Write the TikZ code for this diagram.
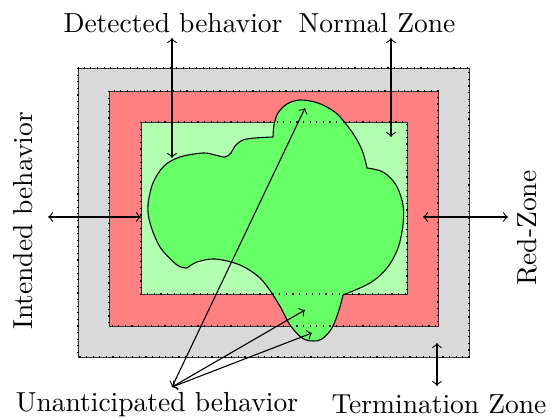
\documentclass[tikz,border=0pt]{standalone}
\begin{document}
\begin{tikzpicture}[x=0.3636pt,y=-0.3636pt,
  zone/.style={draw=black!80,line width=0.25pt},
  dotline/.style={draw=black,dotted,line width=0.4pt},
  lbl/.style={inner sep=0pt,anchor=base},
  conn/.style={<->,line width=0.4pt}]
\useasboundingbox (0,0) rectangle (551,419);
% zones
\path[zone,fill=black!15] (78,68) rectangle (469,357);
\path[zone,fill=red!50] (109,91) rectangle (438,326);
\path[zone,fill=green!30] (141,122) rectangle (407,294);
% behaviour blob
\path[draw=black,fill=green!60,line width=0.4pt] (187,268)
  -- plot[smooth,tension=0.55] coordinates {(187,268) (177,265) (160,247) (150,223) (148,205) (153,183) (164,166) (180,157) (203,153) (215,155) (225,157) (231,153) (235,146) (243,140) (255,138) (273,137)}
  -- plot[smooth,tension=0.55] coordinates {(273,137) (274,125) (278,113) (287,104) (300,100) (318,103) (336,113) (352,132) (362,150) (367,168)}
  -- plot[smooth,tension=0.55] coordinates {(367,168) (383,172) (396,185) (403,205) (403,225) (398,248) (387,268) (370,283) (343,295)}
  -- plot[smooth,tension=0.55] coordinates {(343,295) (339,310) (332,328) (322,339) (313,341) (302,338) (290,325) (281,308) (273,295)}
  -- plot[smooth,tension=0.55] coordinates {(273,295) (260,278) (240,265) (215,259) (197,262) (187,268)}
  -- cycle;
% dotted zone borders on top
\path[dotline] (78,68) rectangle (469,357);
\path[dotline] (109,91) rectangle (438,326);
\path[dotline] (141,122) rectangle (407,294);
% labels
\node[lbl] (det) at (173,33) {Detected behavior};
\node[lbl] (norm) at (377,33) {Normal Zone};
\node[lbl] (unan) at (157,412) {Unanticipated behavior};
\node[lbl] (term) at (439,414) {Termination Zone};
\node[rotate=90,inner sep=0pt] (intb) at (23,221) {Intended behavior};
\node[rotate=90,inner sep=0pt] (redz) at (527,228) {Red-Zone};
% connector end points
\coordinate (detT) at (172,38);  \coordinate (detB) at (172,158);
\coordinate (normT) at (391,38); \coordinate (normB) at (391,137);
\coordinate (intL) at (48,217);  \coordinate (intR) at (141,217);
\coordinate (redL) at (423,217); \coordinate (redR) at (508,217);
\coordinate (termT) at (437,343); \coordinate (termB) at (437,386);
\coordinate (ua) at (172,387);
\coordinate (u1) at (305,108); \coordinate (u2) at (305,310); \coordinate (u3) at (312,333);
% connectors
\draw[conn] (detT) -- (detB);
\draw[conn] (normT) -- (normB);
\draw[conn] (intL) -- (intR);
\draw[conn] (redL) -- (redR);
\draw[conn] (termT) -- (termB);
\draw[conn] (ua) -- (u1);
\draw[conn] (ua) -- (u2);
\draw[conn] (ua) -- (u3);
\end{tikzpicture}
\end{document}
